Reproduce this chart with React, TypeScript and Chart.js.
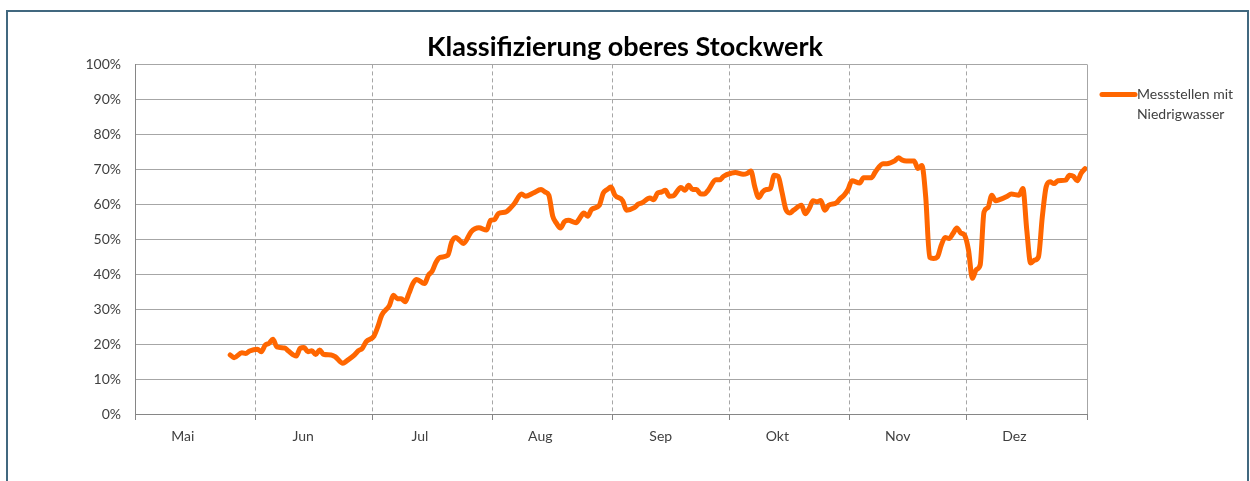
import { useEffect, useRef } from "react";
import { Chart, registerables } from "chart.js";

Chart.register(...registerables);

// ---------- data ----------
const chartTitle = "Klassifizierung oberes Stockwerk";
const seriesLabel = "Messstellen mit Niedrigwasser";
const legendLines = ["Messstellen mit", "Niedrigwasser"];

const monthLabels = ["Mai", "Jun", "Jul", "Aug", "Sep", "Okt", "Nov", "Dez"];
const monthNumbers = [5, 6, 7, 8, 9, 10, 11, 12];
const monthLengths = [31, 30, 31, 31, 30, 31, 30, 31];

const yTickValues = [0, 10, 20, 30, 40, 50, 60, 70, 80, 90, 100];

// daily readings, "MM-DD"
const dates = [
  "05-25", "05-26", "05-28", "05-29", "05-30",
  "06-01", "06-02", "06-03", "06-04", "06-05", "06-06", "06-08", "06-09", "06-11", "06-12", "06-13", "06-14", "06-15", "06-16", "06-17", "06-18", "06-20", "06-21", "06-23", "06-24", "06-26", "06-27", "06-28", "06-29",
  "07-01", "07-02", "07-03", "07-05", "07-06", "07-07", "07-08", "07-09", "07-10", "07-11", "07-12", "07-14", "07-15", "07-16", "07-17", "07-18", "07-20", "07-21", "07-22", "07-23", "07-24", "07-26", "07-27", "07-28", "07-30", "07-31",
  "08-01", "08-02", "08-04", "08-05", "08-06", "08-08", "08-09", "08-11", "08-13", "08-14", "08-15", "08-16", "08-17", "08-18", "08-19", "08-20", "08-22", "08-23", "08-24", "08-25", "08-26", "08-28", "08-29", "08-30", "08-31",
  "09-01", "09-03", "09-04", "09-06", "09-07", "09-08", "09-10", "09-11", "09-12", "09-13", "09-14", "09-15", "09-16", "09-18", "09-19", "09-20", "09-21", "09-22", "09-23", "09-24", "09-25", "09-27", "09-28", "09-29",
  "10-01", "10-02", "10-04", "10-05", "10-06", "10-07", "10-08", "10-09", "10-10", "10-11", "10-12", "10-13", "10-14", "10-15", "10-16", "10-17", "10-19", "10-20", "10-21", "10-22", "10-23", "10-24", "10-25", "10-26", "10-28", "10-29", "10-30", "10-31",
  "11-01", "11-03", "11-04", "11-06", "11-07", "11-09", "11-10", "11-12", "11-13", "11-14", "11-15", "11-17", "11-18", "11-19", "11-20", "11-21", "11-22", "11-23", "11-24", "11-25", "11-26", "11-27", "11-28", "11-29", "11-30",
  "12-01", "12-02", "12-03", "12-04", "12-05", "12-06", "12-07", "12-08", "12-09", "12-11", "12-12", "12-14", "12-15", "12-16", "12-17", "12-18", "12-19", "12-20", "12-21", "12-22", "12-23", "12-24", "12-26", "12-27", "12-28", "12-29", "12-30", "12-31",
];

const values = [
  16.9, 16.1, 17.5, 17.3, 18.0,
  18.5, 17.8, 19.7, 20.2, 21.4, 19.2, 18.9, 18.0, 16.6, 18.8, 19.0, 17.8, 18.1, 17.0, 18.3, 17.1, 16.9, 16.4, 14.5, 15.2, 16.9, 18.1, 18.8, 20.7,
  22.3, 25.0, 28.3, 31.1, 34.0, 33.0, 33.0, 32.1, 34.5, 37.3, 38.5, 37.3, 39.7, 40.9, 43.5, 44.8, 45.4, 49.2, 50.5, 49.7, 48.8, 52.1, 53.0, 53.3, 52.6, 55.4,
  55.6, 57.3, 57.8, 58.8, 60.0, 62.9, 62.3, 63.2, 64.2, 63.5, 62.6, 56.6, 54.5, 53.2, 55.0, 55.4, 54.7, 56.1, 57.5, 56.6, 58.5, 59.7, 63.2, 64.2, 64.9,
  62.6, 61.0, 58.3, 59.0, 60.0, 60.4, 61.8, 61.3, 63.2, 63.5, 64.0, 62.3, 62.4, 64.8, 64.0, 65.4, 64.2, 64.2, 63.0, 62.9, 64.0, 67.0, 67.0, 68.0,
  68.9, 69.1, 68.6, 68.8, 69.5, 65.0, 61.9, 63.5, 64.2, 64.5, 68.3, 68.0, 63.5, 58.5, 57.5, 58.3, 59.7, 57.3, 58.8, 61.0, 60.7, 61.1, 58.3, 59.7, 60.4, 61.6, 62.6, 64.2,
  66.7, 66.1, 67.6, 67.6, 69.2, 71.6, 71.6, 72.4, 73.3, 72.6, 72.4, 72.4, 70.2, 71.1, 62.0, 44.8, 44.5, 44.9, 48.3, 50.5, 50.2, 51.6, 53.2, 51.8, 51.1,
  46.9, 38.8, 41.3, 42.6, 57.8, 59.0, 62.6, 61.0, 61.3, 62.3, 62.9, 62.6, 64.5, 52.6, 43.2, 44.0, 44.9, 56.4, 65.0, 66.4, 65.9, 66.7, 66.9, 68.3, 68.0, 66.7, 68.9, 70.2,
];

// ---------- derived ----------
const monthStarts: number[] = [0];
monthLengths.forEach((len, i) => monthStarts.push(monthStarts[i] + len));
const totalDays = monthStarts[monthStarts.length - 1];

const dayIndex = (md: string) => {
  const [m, d] = md.split("-").map(Number);
  return monthStarts[monthNumbers.indexOf(m)] + d - 1;
};
const points = dates.map((md, i) => ({ x: dayIndex(md) + 0.5, y: values[i] }));

const LABEL_SHIFT = 12.3;
const labelMap = new Map<number, string>();
monthLabels.forEach((lab, i) => labelMap.set(monthStarts[i] + LABEL_SHIFT, lab));
const boundarySet = new Set<number>(monthStarts);

const LINE_COLOR = "#ff6600";
const GRID_COLOR = "#a6a6a6";
const AXIS_COLOR = "#868686";
const TEXT_COLOR = "#404040";
const FONT = "Lato";

const legendPlugin = {
  id: "sideLegend",
  afterDraw(chart: any) {
    const { ctx, chartArea } = chart;
    const ds = chart.data.datasets[0];
    const x0 = chartArea.right + 13;
    const y0 = chartArea.top + 30;
    ctx.save();
    ctx.strokeStyle = ds.borderColor;
    ctx.lineWidth = ds.borderWidth;
    ctx.lineCap = "round";
    ctx.beginPath();
    ctx.moveTo(x0 + 2, y0);
    ctx.lineTo(x0 + 35, y0);
    ctx.stroke();
    ctx.fillStyle = TEXT_COLOR;
    ctx.font = `14px ${FONT}`;
    ctx.textBaseline = "middle";
    ctx.textAlign = "left";
    legendLines.forEach((line, i) => ctx.fillText(line, x0 + 37, y0 + i * 20));
    ctx.restore();
  },
};

export default function App() {
  const ref = useRef<HTMLCanvasElement | null>(null);

  useEffect(() => {
    if (!ref.current) return;
    const isBoundary = (c: any) => c.tick && boundarySet.has(c.tick.value);
    const chart = new Chart(ref.current, {
      type: "line",
      data: {
        datasets: [
          {
            label: seriesLabel,
            data: points,
            borderColor: LINE_COLOR,
            backgroundColor: LINE_COLOR,
            borderWidth: 5,
            pointRadius: 0,
            cubicInterpolationMode: "monotone",
            borderJoinStyle: "round",
            borderCapStyle: "round",
            fill: false,
          },
        ],
      },
      options: {
        animation: false,
        responsive: false,
        layout: { padding: 0 },
        plugins: {
          legend: { display: false },
          tooltip: { enabled: false },
          title: {
            display: true,
            text: chartTitle,
            color: "#000",
            font: { family: FONT, size: 27, weight: "bold", lineHeight: 1.2 },
            padding: { top: 31, bottom: 1 },
          },
        },
        scales: {
          x: {
            type: "linear",
            min: 0,
            max: totalDays,
            afterBuildTicks: (s: any) => {
              const vals = [...monthStarts, ...Array.from(labelMap.keys())].sort((a, b) => a - b);
              s.ticks = vals.map((v) => ({ value: v }));
            },
            afterFit: (s: any) => {
              s.height = 67;
            },
            ticks: {
              autoSkip: false,
              maxRotation: 0,
              minRotation: 0,
              padding: 8,
              color: TEXT_COLOR,
              font: { family: FONT, size: 14 },
              callback: (v: any) => labelMap.get(Number(v)) ?? "",
            },
            grid: {
              color: (c: any) => (isBoundary(c) ? GRID_COLOR : "rgba(0,0,0,0)"),
              tickColor: (c: any) => (isBoundary(c) ? AXIS_COLOR : "rgba(0,0,0,0)"),
              tickLength: 6,
              lineWidth: 1,
            },
            border: {
              color: AXIS_COLOR,
              dash: (c: any) =>
                c.tick && c.tick.value !== 0 && c.tick.value !== totalDays ? [4, 3] : [],
            },
          },
          y: {
            min: 0,
            max: 100,
            afterBuildTicks: (s: any) => {
              s.ticks = yTickValues.map((v) => ({ value: v }));
            },
            afterFit: (s: any) => {
              s.width = 135;
            },
            ticks: {
              padding: 14,
              color: TEXT_COLOR,
              font: { family: FONT, size: 14 },
              callback: (v: any) => `${v}%`,
            },
            grid: { color: GRID_COLOR, drawTicks: false, lineWidth: 1 },
            border: { color: AXIS_COLOR },
          },
          legendSpace: {
            type: "linear",
            position: "right",
            display: true,
            afterFit: (s: any) => {
              s.width = 163;
            },
            ticks: { display: false },
            grid: { display: false },
            border: { display: false },
          },
        },
      } as any,
      plugins: [legendPlugin],
    });
    return () => chart.destroy();
  }, []);

  return (
    <div
      style={{
        position: "absolute",
        left: 0,
        top: 0,
        width: 1250,
        height: 481,
        overflow: "hidden",
        background: "#fff",
      }}
    >
      <div
        style={{
          position: "absolute",
          left: 6,
          top: 10,
          width: 1239,
          height: 500,
          border: "2px solid #41687f",
        }}
      />
      <canvas
        ref={ref}
        width={1250}
        height={481}
        style={{ position: "absolute", left: 0, top: 0, display: "block" }}
      />
    </div>
  );
}
